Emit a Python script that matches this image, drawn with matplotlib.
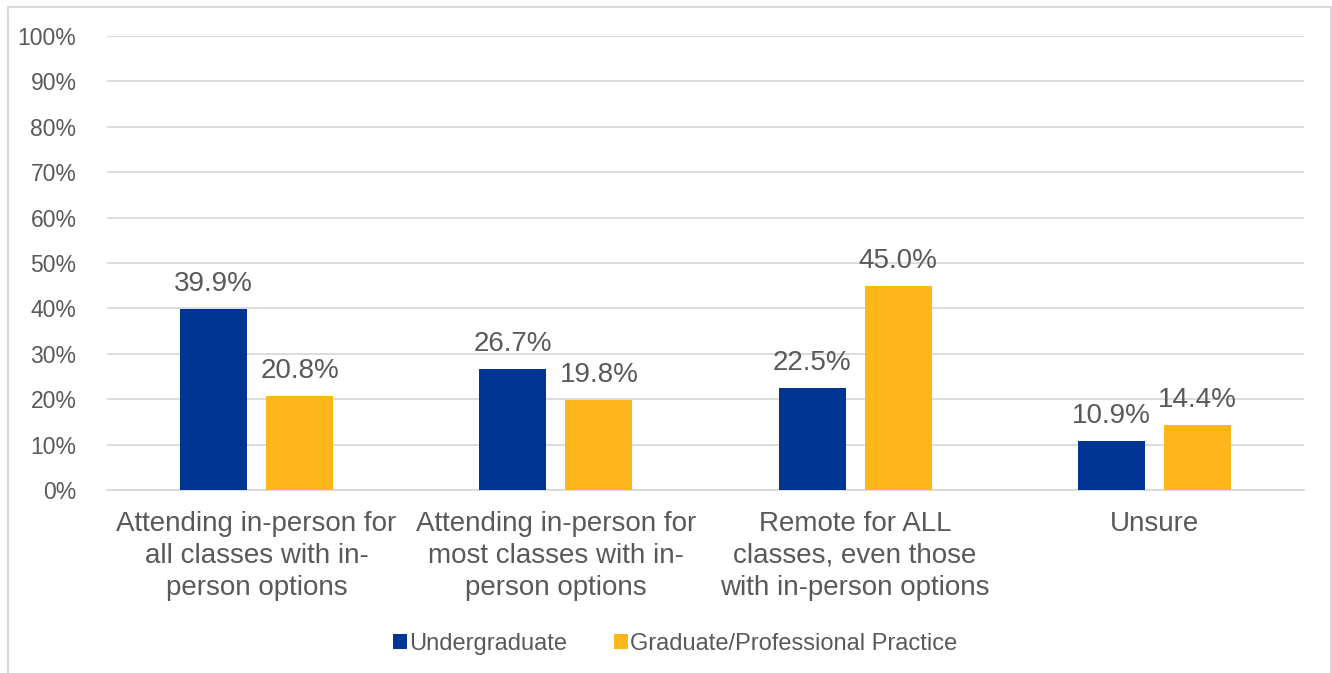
import numpy as np
import matplotlib.pyplot as plt
from matplotlib.patches import Rectangle

plt.rcParams['font.family'] = ['Liberation Sans', 'DejaVu Sans']

categories = ["Attending in-person for\nall classes with in-\nperson options",
              "Attending in-person for\nmost classes with in-\nperson options",
              "Remote for ALL\nclasses, even those\nwith in-person options",
              "Unsure"]
undergrad = [39.9, 26.7, 22.5, 10.9]
graduate = [20.8, 19.8, 45.0, 14.4]
series_names = ["Undergraduate", "Graduate/Professional Practice"]

blue = "#003594"
gold = "#FDB71A"
gray_txt = "#595959"
grid_col = "#D9D9D9"

fig = plt.figure(figsize=(13.32, 6.73), dpi=100)
ax = fig.add_axes([0.0803, 0.2719, 0.8987, 0.6746])

x = np.arange(len(categories))
w = 0.224
off = 0.144
b1 = ax.bar(x - off, undergrad, w, color=blue, label=series_names[0], zorder=3)
b2 = ax.bar(x + off, graduate, w, color=gold, label=series_names[1], zorder=3)

for bars, vals in [(b1, undergrad), (b2, graduate)]:
    for b, v in zip(bars, vals):
        ax.text(b.get_x() + b.get_width() / 2, v + 2.6, f"{v:.1f}%",
                ha="center", va="bottom", fontsize=20, color=gray_txt)

ax.set_xlim(-0.5, 3.5)
ax.set_ylim(0, 100)
ax.set_yticks(np.arange(0, 101, 10))
ax.set_yticklabels([f"{t}%" for t in range(0, 101, 10)], fontsize=16.5, color=gray_txt)
ax.set_xticks(x)
ax.set_xticklabels(categories, fontsize=20, color=gray_txt, linespacing=1.3)
ax.tick_params(length=0)
ax.tick_params(axis="y", pad=22)
ax.tick_params(axis="x", pad=15)
ax.grid(axis="y", color=grid_col, linewidth=1.3, zorder=0)
for s in ["top", "right", "left"]:
    ax.spines[s].set_visible(False)
ax.spines["bottom"].set_color(grid_col)
ax.spines["bottom"].set_linewidth(1.3)

fig.legend(loc="center", bbox_to_anchor=(675 / 1332, 1 - 644 / 673), ncol=2, frameon=False,
           fontsize=17, labelcolor=gray_txt, handlelength=0.6, handleheight=0.6,
           handletextpad=0.08, columnspacing=2.0)

fig.patches.append(Rectangle((8 / 1332, -0.01), 1323 / 1332, 1 - 7 / 673 + 0.01,
                             transform=fig.transFigure, fill=False,
                             edgecolor=grid_col, linewidth=1.5))

fig.savefig("out.png", dpi=100)
